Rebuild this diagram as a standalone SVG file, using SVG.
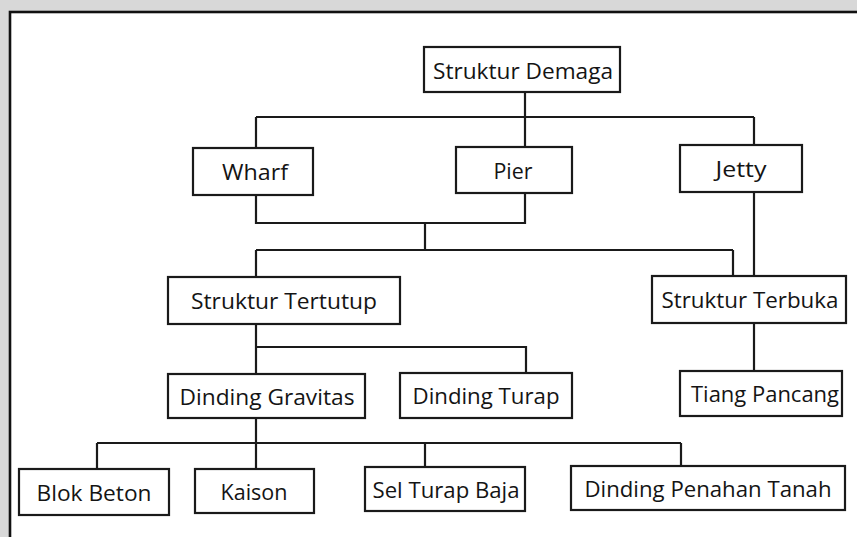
<svg xmlns="http://www.w3.org/2000/svg" width="857" height="537" viewBox="0 0 857 537">
<style>
.box{fill:#fff;stroke:#1a1a1a;stroke-width:2.2}
.lbl{font-family:"Open Sans","Liberation Sans",sans-serif;font-size:22px;fill:#141414;text-anchor:middle}
.con{fill:none;stroke:#1a1a1a;stroke-width:2.2}
</style>
<rect x="0" y="0" width="857" height="537" fill="#d8d8d8"/>
<rect x="10" y="12" width="860" height="540" fill="#fff" stroke="#111" stroke-width="2.6"/>
<g id="connectors" class="con">
<path d="M525 92V117M256 117H754M256 117V148M525 117V147M754 117V145"/>
<path d="M256 195V223H525V193M425 223V250M256 250H733M256 250V277M733 250V276"/>
<path d="M754 192V276"/>
<path d="M256 324V347H526V373M256 347V374"/>
<path d="M754 323V371"/>
<path d="M256 418V469M97 443H681M97 443V469M425 443V467M681 443V467"/>
</g>
<g id="n-demaga"><rect class="box" x="424" y="47" width="196" height="45"/><text class="lbl" x="523" y="79" textLength="180" lengthAdjust="spacingAndGlyphs">Struktur Demaga</text></g>
<g id="n-wharf"><rect class="box" x="193" y="148" width="120" height="47"/><text class="lbl" x="255" y="180" textLength="66" lengthAdjust="spacingAndGlyphs">Wharf</text></g>
<g id="n-pier"><rect class="box" x="456" y="147" width="116" height="46"/><text class="lbl" x="513" y="179" textLength="39" lengthAdjust="spacingAndGlyphs">Pier</text></g>
<g id="n-jetty"><rect class="box" x="680" y="145" width="122" height="47"/><text class="lbl" x="741" y="177" textLength="51" lengthAdjust="spacingAndGlyphs">Jetty</text></g>
<g id="n-tertutup"><rect class="box" x="168" y="277" width="232" height="47"/><text class="lbl" x="284" y="309" textLength="186" lengthAdjust="spacingAndGlyphs">Struktur Tertutup</text></g>
<g id="n-terbuka"><rect class="box" x="652" y="276" width="194" height="47"/><text class="lbl" x="750" y="308" textLength="177" lengthAdjust="spacingAndGlyphs">Struktur Terbuka</text></g>
<g id="n-gravitas"><rect class="box" x="168" y="374" width="197" height="44"/><text class="lbl" x="267" y="405" textLength="175" lengthAdjust="spacingAndGlyphs">Dinding Gravitas</text></g>
<g id="n-turap"><rect class="box" x="400" y="373" width="172" height="45"/><text class="lbl" x="486" y="404" textLength="147" lengthAdjust="spacingAndGlyphs">Dinding Turap</text></g>
<g id="n-tiang"><rect class="box" x="680" y="371" width="162" height="45"/><text class="lbl" x="765" y="402" textLength="148" lengthAdjust="spacingAndGlyphs">Tiang Pancang</text></g>
<g id="n-blok"><rect class="box" x="19" y="469" width="150" height="46"/><text class="lbl" x="94" y="501" textLength="115" lengthAdjust="spacingAndGlyphs">Blok Beton</text></g>
<g id="n-kaison"><rect class="box" x="195" y="469" width="119" height="44"/><text class="lbl" x="254" y="500" textLength="67" lengthAdjust="spacingAndGlyphs">Kaison</text></g>
<g id="n-sel"><rect class="box" x="365" y="467" width="160" height="44"/><text class="lbl" x="446" y="498" textLength="147" lengthAdjust="spacingAndGlyphs">Sel Turap Baja</text></g>
<g id="n-penahan"><rect class="box" x="571" y="466" width="274" height="44"/><text class="lbl" x="708" y="497" textLength="247" lengthAdjust="spacingAndGlyphs">Dinding Penahan Tanah</text></g>
</svg>
